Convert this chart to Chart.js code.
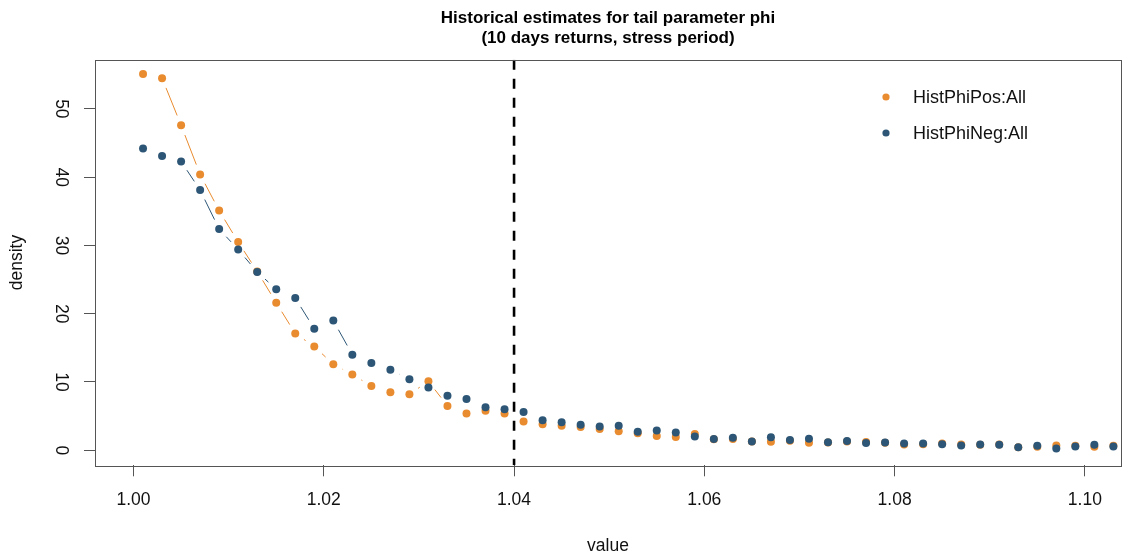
<!DOCTYPE html>
<html>
<head>
<meta charset="utf-8">
<script src="https://cdn.jsdelivr.net/npm/chart.js@4"></script>
<style>
  html, body { margin: 0; padding: 0; background: #fff; }
  canvas { display: block; }
</style>
</head>
<body>
<canvas id="myChart" width="1125" height="558"></canvas>
<script>
// bin centres of the density estimate
const values = [1.001, 1.003, 1.005, 1.007, 1.009, 1.011, 1.013, 1.015, 1.017, 1.019,
  1.021, 1.023, 1.025, 1.027, 1.029, 1.031, 1.033, 1.035, 1.037, 1.039,
  1.041, 1.043, 1.045, 1.047, 1.049, 1.051, 1.053, 1.055, 1.057, 1.059,
  1.061, 1.063, 1.065, 1.067, 1.069, 1.071, 1.073, 1.075, 1.077, 1.079,
  1.081, 1.083, 1.085, 1.087, 1.089, 1.091, 1.093, 1.095, 1.097, 1.099,
  1.101, 1.103];

const phiPos = [55.1, 54.5, 47.6, 40.4, 35.1, 30.5, 26.2, 21.6, 17.1, 15.2,
  12.6, 11.1, 9.4, 8.5, 8.2, 10.1, 6.5, 5.4, 5.8, 5.4,
  4.2, 3.8, 3.6, 3.4, 3.1, 2.8, 2.5, 2.1, 1.95, 2.4,
  1.6, 1.65, 1.3, 1.25, 1.4, 1.1, 1.15, 1.3, 1.2, 1.1,
  0.85, 0.9, 1.0, 0.85, 0.8, 0.85, 0.45, 0.5, 0.7, 0.65,
  0.5, 0.65];

const phiNeg = [44.2, 43.1, 42.3, 38.1, 32.4, 29.4, 26.1, 23.6, 22.3, 17.8,
  19.0, 14.0, 12.8, 11.8, 10.4, 9.2, 8.0, 7.5, 6.3, 6.0,
  5.6, 4.4, 4.1, 3.75, 3.5, 3.6, 2.7, 2.9, 2.6, 2.0,
  1.65, 1.85, 1.3, 1.9, 1.5, 1.7, 1.17, 1.36, 1.05, 1.15,
  1.0, 1.0, 0.88, 0.7, 0.85, 0.8, 0.45, 0.65, 0.25, 0.55,
  0.8, 0.55];

const seriesNames = ['HistPhiPos:All', 'HistPhiNeg:All'];
const cutoff = 1.04;
const xMin = 0.99595, xMax = 1.1038;
const yMin = -2.2, yMax = 57.2;

const orange = '#E98B2F';
const blue = '#2D5676';
const axisGrey = '#555555';
const GAP = 10.5; // R type="b" gap around points

Chart.defaults.font.family = "'Liberation Sans', Arial, sans-serif";
Chart.defaults.color = '#111';

function toPoints(ys) {
  return values.map((x, i) => ({ x: x, y: ys[i] }));
}

// dash pattern that leaves a gap at both ends of every segment
const gappedSegment = {
  borderDash: ctx => {
    const L = Math.hypot(ctx.p1.x - ctx.p0.x, ctx.p1.y - ctx.p0.y);
    return L > 2 * GAP ? [L - 2 * GAP, 2 * GAP] : [0, L + 50];
  },
  borderDashOffset: ctx => {
    const L = Math.hypot(ctx.p1.x - ctx.p0.x, ctx.p1.y - ctx.p0.y);
    return L > 2 * GAP ? L - GAP : 0;
  }
};

const boxPlugin = {
  id: 'rbox',
  afterDatasetsDraw(chart) {
    const { ctx, chartArea: a } = chart;
    ctx.save();
    ctx.strokeStyle = axisGrey;
    ctx.lineWidth = 1;
    ctx.strokeRect(Math.round(a.left) + 0.5, Math.round(a.top) + 0.5,
      Math.round(a.right - a.left), Math.round(a.bottom - a.top));

    // legend, top right, like R's legend(pch=19)
    const items = chart.data.datasets.filter(d => d.label);
    ctx.font = "18px 'Liberation Sans', Arial, sans-serif";
    ctx.textBaseline = 'middle';
    ctx.textAlign = 'left';
    items.forEach((d, i) => {
      const y = 97 + i * 36;
      ctx.fillStyle = d.pointBackgroundColor;
      ctx.beginPath();
      ctx.arc(886, y, 3.6, 0, Math.PI * 2);
      ctx.fill();
      ctx.fillStyle = '#111';
      ctx.fillText(d.label, 913, y + 1);
    });
    ctx.restore();
  }
};

new Chart(document.getElementById('myChart'), {
  type: 'line',
  data: {
    datasets: [
      {
        label: seriesNames[0],
        data: toPoints(phiPos),
        borderColor: orange,
        pointBackgroundColor: orange,
        borderWidth: 1,
        pointRadius: 4,
        pointBorderWidth: 0,
        segment: gappedSegment,
        order: 2
      },
      {
        label: seriesNames[1],
        data: toPoints(phiNeg),
        borderColor: blue,
        pointBackgroundColor: blue,
        borderWidth: 1,
        pointRadius: 4,
        pointBorderWidth: 0,
        segment: gappedSegment,
        order: 1
      },
      {
        label: '',
        data: [{ x: cutoff, y: yMax }, { x: cutoff, y: yMin }],
        borderColor: '#000',
        borderWidth: 2.6,
        borderDash: [10, 9],
        pointRadius: 0,
        order: 0
      }
    ]
  },
  options: {
    responsive: false,
    animation: false,
    events: [],
    layout: { padding: { top: 8, left: 0, right: 0, bottom: 0 } },
    scales: {
      x: {
        type: 'linear',
        min: xMin,
        max: xMax,
        afterFit: s => { s.height = 92.7; },
        grid: { drawOnChartArea: false, drawTicks: true, tickLength: 11, color: axisGrey },
        border: { display: false },
        ticks: {
          stepSize: 0.02,
          includeBounds: false,
          padding: 13,
          maxRotation: 0,
          font: { size: 17.5 },
          callback: v => v.toFixed(2)
        },
        title: { display: true, text: 'value', font: { size: 17.5 }, padding: { top: 0, bottom: 1 } }
      },
      y: {
        min: yMin,
        max: yMax,
        afterFit: s => { s.width = 95; },
        grid: { drawOnChartArea: false, drawTicks: true, tickLength: 11, color: axisGrey },
        border: { display: false },
        ticks: {
          stepSize: 10,
          includeBounds: false,
          minRotation: -90,
          maxRotation: -90,
          crossAlign: 'center',
          padding: 13,
          font: { size: 17.5 }
        },
        title: { display: true, text: 'density', font: { size: 17.5 }, padding: { top: 7, bottom: 0 } }
      }
    },
    plugins: {
      legend: { display: false },
      tooltip: { enabled: false },
      title: {
        display: true,
        fullSize: false,
        text: ['Historical estimates for tail parameter phi', '(10 days returns, stress period)'],
        color: '#000',
        font: { size: 17, weight: 'bold', lineHeight: 1.2 },
        padding: { top: 0, bottom: 10.9 }
      }
    }
  },
  plugins: [boxPlugin]
});
</script>
</body>
</html>
